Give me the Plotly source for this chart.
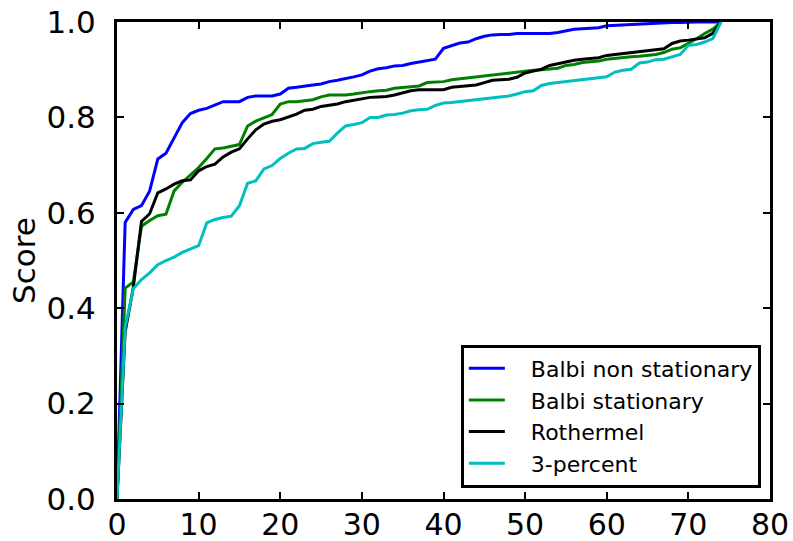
import plotly.graph_objects as go

# Rank index of each case (sorted scores)
x_index = list(range(75))

balbi_non_stationary = [
    0, 0.58, 0.607, 0.615, 0.646, 0.713, 0.725, 0.756, 0.789, 0.808,
    0.815, 0.819, 0.826, 0.833, 0.833, 0.833, 0.842, 0.845, 0.845, 0.845,
    0.849, 0.861, 0.863, 0.866, 0.868, 0.87, 0.875, 0.878, 0.881, 0.885,
    0.889, 0.897, 0.902, 0.904, 0.908, 0.909, 0.913, 0.916, 0.918, 0.922,
    0.945, 0.95, 0.956, 0.958, 0.965, 0.97, 0.973, 0.974, 0.974, 0.976,
    0.976, 0.976, 0.976, 0.976, 0.978, 0.982, 0.985, 0.986, 0.987, 0.988,
    0.992, 0.993, 0.993, 0.995, 0.996, 0.996, 0.997, 0.998, 0.999, 0.999,
    1.0, 1.0, 1.0, 1.0, 1.0,
]
balbi_stationary = [
    0, 0.442, 0.455, 0.572, 0.584, 0.594, 0.597, 0.646, 0.664, 0.679,
    0.695, 0.714, 0.734, 0.736, 0.74, 0.743, 0.782, 0.792, 0.799, 0.806,
    0.828, 0.833, 0.833, 0.835, 0.837, 0.843, 0.847, 0.847, 0.847, 0.849,
    0.852, 0.854, 0.856, 0.857, 0.861, 0.863, 0.864, 0.866, 0.873, 0.874,
    0.875, 0.879, 0.881, 0.883, 0.885, 0.888, 0.89, 0.892, 0.894, 0.895,
    0.897, 0.899, 0.9, 0.901, 0.903, 0.909, 0.911, 0.915, 0.916, 0.918,
    0.922, 0.924, 0.925, 0.927, 0.928, 0.93, 0.932, 0.936, 0.943, 0.946,
    0.955, 0.965, 0.976, 0.985, 1.0,
]
rothermel = [
    0, 0.35, 0.444, 0.582, 0.598, 0.642, 0.65, 0.66, 0.667, 0.669,
    0.688, 0.697, 0.702, 0.717, 0.727, 0.734, 0.755, 0.774, 0.786, 0.792,
    0.795, 0.801, 0.807, 0.815, 0.817, 0.823, 0.826, 0.828, 0.833, 0.836,
    0.84, 0.842, 0.843, 0.844, 0.847, 0.852, 0.856, 0.858, 0.858, 0.858,
    0.858, 0.863, 0.865, 0.866, 0.868, 0.873, 0.878, 0.879, 0.88, 0.884,
    0.893, 0.897, 0.901, 0.909, 0.913, 0.916, 0.92, 0.922, 0.924, 0.925,
    0.93, 0.932, 0.934, 0.936, 0.938, 0.94, 0.941, 0.944, 0.955, 0.96,
    0.962, 0.964, 0.967, 0.976, 1.0,
]
three_percent = [
    0, 0.36, 0.441, 0.46, 0.474, 0.491, 0.5, 0.507, 0.517, 0.524,
    0.531, 0.579, 0.586, 0.59, 0.593, 0.615, 0.662, 0.667, 0.692, 0.699,
    0.714, 0.725, 0.734, 0.735, 0.745, 0.748, 0.75, 0.767, 0.782, 0.785,
    0.789, 0.8, 0.8, 0.805, 0.806, 0.809, 0.814, 0.816, 0.817, 0.825,
    0.83, 0.831, 0.833, 0.835, 0.837, 0.838, 0.84, 0.842, 0.845, 0.849,
    0.854, 0.856, 0.867, 0.871, 0.873, 0.875, 0.877, 0.878, 0.88, 0.882,
    0.885, 0.895, 0.899, 0.901, 0.914, 0.916, 0.921, 0.922, 0.927, 0.932,
    0.951, 0.953, 0.958, 0.965, 1.0,
]

series = [
    ("Balbi non stationary", balbi_non_stationary, "#0000ff"),
    ("Balbi stationary", balbi_stationary, "#008000"),
    ("Rothermel", rothermel, "#000000"),
    ("3-percent", three_percent, "#00bfbf"),
]

x_ticks = [0, 10, 20, 30, 40, 50, 60, 70, 80]
y_ticks = [0.0, 0.2, 0.4, 0.6, 0.8, 1.0]
y_tick_text = ["0.0", "0.2", "0.4", "0.6", "0.8", "1.0"]

FONT = "DejaVu Sans"
LEGEND_GAP = "\u00a0\u00a0\u00a0"  # space between the legend line sample and its label

fig = go.Figure()
for name, values, color in series:
    fig.add_trace(go.Scatter(
        x=x_index, y=values, mode="lines", name=LEGEND_GAP + name,
        line=dict(color=color, width=3),
    ))

axis_common = dict(
    showline=True, linecolor="black", linewidth=3, mirror="ticks",
    ticks="inside", ticklen=7, tickwidth=1.5, tickcolor="black",
    showgrid=False, zeroline=False,
)

fig.update_xaxes(range=[0, 80], tickvals=x_ticks, ticklabelstandoff=-3,
                 tickfont=dict(family=FONT, size=30, color="black"),
                 **axis_common)
fig.update_yaxes(range=[0, 1.0], tickvals=y_ticks, ticktext=y_tick_text,
                 ticklabelstandoff=12,
                 tickfont=dict(family=FONT, size=31, color="black"),
                 title=dict(text="Score", font=dict(family=FONT, size=31, color="black"),
                            standoff=2),
                 **axis_common)

fig.update_layout(
    width=793, height=541,
    margin=dict(l=117, r=23, t=22, b=42, autoexpand=False),
    paper_bgcolor="white", plot_bgcolor="white",
    font=dict(family=FONT, color="black"),
    showlegend=True,
    legend=dict(
        x=0.986, y=0.024, xanchor="right", yanchor="bottom",
        bgcolor="white", bordercolor="black", borderwidth=3,
        font=dict(family=FONT, size=22, color="black"),
        traceorder="normal", itemwidth=36,
    ),
)

fig.write_html("out.html")
